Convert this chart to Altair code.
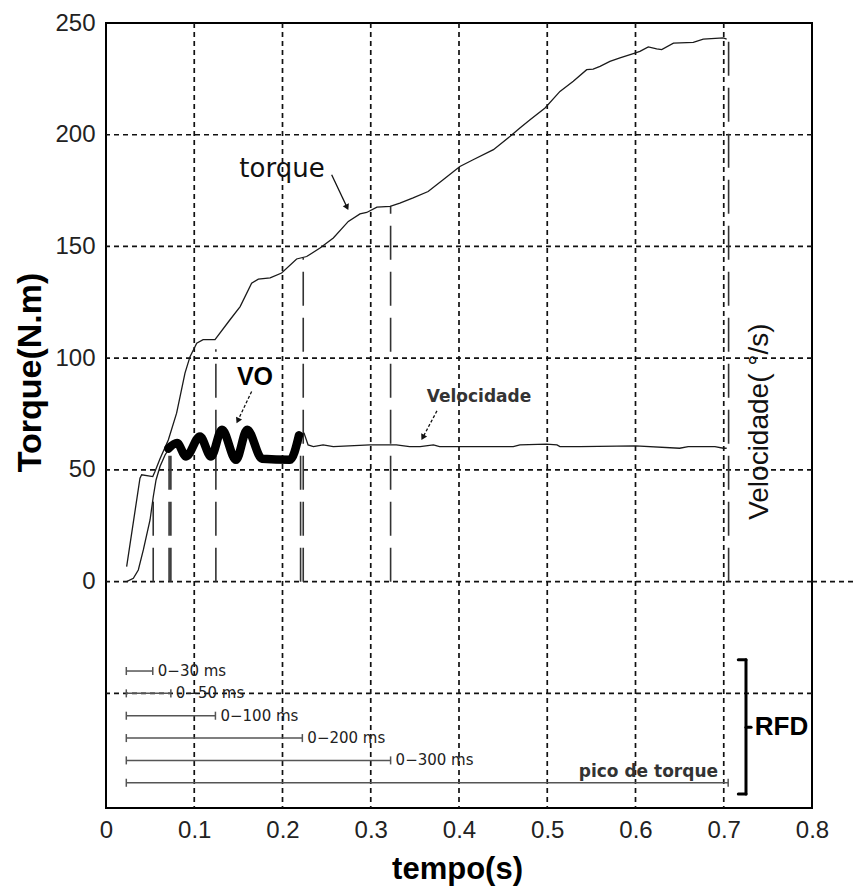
import altair as alt
import pandas as pd
import numpy as np

# ---------------- data ----------------
torque_t = [0.0234, 0.0385, 0.0404, 0.053, 0.0555, 0.0612, 0.0706, 0.080, 0.0895, 0.0952,
            0.1028, 0.110, 0.1235, 0.1405, 0.152, 0.165, 0.1726, 0.186, 0.199, 0.216,
            0.2274, 0.2425, 0.2576, 0.2746, 0.2878, 0.2954, 0.307, 0.322, 0.333, 0.348,
            0.365, 0.382, 0.401, 0.416, 0.439, 0.458, 0.469, 0.4805, 0.4975, 0.5144,
            0.5295, 0.5447, 0.552, 0.5598, 0.571, 0.5824, 0.5975, 0.605, 0.6145, 0.624,
            0.6297, 0.643, 0.6655, 0.6768, 0.6995, 0.7033]
torque_v = [6.7, 46.3, 47.8, 47.0, 49.3, 55.0, 63.4, 75.4, 93.3, 100.7,
            106.7, 108.3, 108.3, 117.2, 123.1, 133.6, 135.4, 135.9, 138.1, 144.4,
            145.5, 149.3, 153.8, 161.2, 164.6, 165.2, 167.6, 167.9, 169.4, 171.7,
            174.6, 179.9, 185.8, 188.8, 193.3, 199.3, 203.0, 206.7, 212.0, 219.4,
            223.9, 229.1, 229.4, 230.6, 232.8, 234.4, 236.3, 237.3, 239.3, 238.4,
            238.1, 241.0, 241.3, 242.8, 243.3, 242.8]

# velocity: rising part (segment "a") and plateau after the VO wave (segment "b")
vel_t = [0.0234, 0.031, 0.0366, 0.0423, 0.0499, 0.0536, 0.0567, 0.0612, 0.0669, 0.0706,
         0.2187, 0.2245, 0.229, 0.235, 0.246, 0.2576, 0.299, 0.329, 0.344, 0.356,
         0.371, 0.378, 0.4615, 0.469, 0.499, 0.511, 0.5144, 0.537, 0.60, 0.65,
         0.6597, 0.69, 0.6996, 0.7033]
vel_v = [0.0, 1.5, 5.2, 14.2, 27.6, 38.1, 45.5, 51.5, 56.7, 59.0,
         65.5, 66.4, 61.2, 60.4, 61.2, 60.4, 61.2, 61.2, 60.4, 60.4,
         61.2, 60.4, 60.4, 61.2, 61.5, 61.2, 60.4, 60.4, 60.8, 59.7,
         60.4, 60.4, 59.7, 59.7]
vel_seg = ["a"] * 10 + ["b"] * 24

vo_t = [0.0706, 0.0805, 0.0907, 0.1065, 0.119, 0.1314, 0.1473, 0.160, 0.1768, 0.2085, 0.2187]
vo_v = [59.5, 62.0, 56.0, 65.0, 56.0, 68.0, 54.5, 68.0, 55.0, 54.5, 65.5]

marker_t = [0.0535, 0.0715, 0.0735, 0.1245, 0.2205, 0.2235, 0.3225, 0.7055]
marker_top = [40, 60, 60, 104, 66, 145, 168, 243]

grid_x = [0.1, 0.2, 0.3, 0.4, 0.5, 0.6, 0.7]
grid_y = [-50, 0, 50, 100, 150, 200]
x_ticks = [0, 0.1, 0.2, 0.3, 0.4, 0.5, 0.6, 0.7, 0.8]
y_ticks = [0, 50, 100, 150, 200, 250]

rfd_labels = ["0\u221230 ms", "0\u221250 ms", "0\u2212100 ms", "0\u2212200 ms", "0\u2212300 ms", ""]
rfd_row = [-40, -50, -60, -70, -80, -90]
rfd_start = 0.023
rfd_end = [0.053, 0.0735, 0.124, 0.2225, 0.3225, 0.705]

# ---------------- layout ----------------
W, H = 706, 785
XD = [0, 0.8]
YD = [-101.3, 250]
XS = alt.Scale(domain=XD, nice=False, zero=False)
YS = alt.Scale(domain=YD, nice=False, zero=False)
pxx = W / (XD[1] - XD[0])
pxy = H / (YD[1] - YD[0])

X_AXIS = alt.Axis(
    values=x_ticks, format=".1~f", title="tempo(s)", grid=False, ticks=False,
    domain=False, labelFont="Liberation Sans", labelFontSize=24, labelColor="#222",
    labelPadding=10, labelOverlap=False, labelFlush=False,
    titleFont="Liberation Sans", titleFontSize=31, titleFontWeight="bold",
    titleColor="#000", titleX=351, titleY=70, titleBaseline="alphabetic",
    titleAlign="center")
Y_AXIS = alt.Axis(
    values=y_ticks, title="Torque(N.m)", grid=False, ticks=False, domain=False,
    labelFont="Liberation Sans", labelFontSize=24, labelColor="#222",
    labelPadding=11, labelOverlap=False, labelFlush=False,
    titleFont="Liberation Sans", titleFontSize=34, titleFontWeight="bold",
    titleColor="#000", titleAngle=270, titleX=-76, titleY=349,
    titleAlign="center", titleBaseline="middle")


def X(f):
    return alt.X(f, type="quantitative", scale=XS, axis=X_AXIS)


def Y(f):
    return alt.Y(f, type="quantitative", scale=YS, axis=Y_AXIS)


INK = "#1a1a1a"
GRID = "#111111"

# gridlines
vgrid = alt.Chart(pd.DataFrame({"x": grid_x})).mark_rule(
    color=GRID, strokeWidth=1.7, strokeDash=[5, 4]).encode(x=X("x"))
hgrid = alt.Chart(pd.DataFrame({"y": grid_y})).mark_rule(
    color=GRID, strokeWidth=1.7, strokeDash=[5, 4]).encode(y=Y("y"))
zero_ext = alt.Chart(pd.DataFrame({"x": [0.8], "x2": [0.85], "y": [0]})).mark_rule(
    color=GRID, strokeWidth=1.7, strokeDash=[5, 4]).encode(
    x=X("x"), x2="x2", y=Y("y"))

torque = alt.Chart(pd.DataFrame({"t": torque_t, "v": torque_v})).mark_line(
    color=INK, strokeWidth=1.3).encode(x=X("t"), y=Y("v"), order="t:Q")

vel = alt.Chart(pd.DataFrame({"t": vel_t, "v": vel_v, "seg": vel_seg})).mark_line(
    color=INK, strokeWidth=1.3).encode(x=X("t"), y=Y("v"), detail="seg:N", order="t:Q")

vo = alt.Chart(pd.DataFrame({"t": vo_t, "v": vo_v})).mark_line(
    color="#000", strokeWidth=8.5, interpolate="monotone", strokeCap="round",
    strokeJoin="round").encode(x=X("t"), y=Y("v"), order="t:Q")

# vertical long-dashed markers
mk_df = pd.DataFrame({"t": marker_t, "top": marker_top, "bot": [0] * len(marker_t)})
markers = alt.Chart(mk_df).mark_rule(
    color="#333", strokeWidth=1.6, strokeDash=[34, 12]).encode(
    x=X("t"), y=Y("bot"), y2="top")

# RFD bars
rfd_df = pd.DataFrame({"row": rfd_row, "start": [rfd_start] * len(rfd_row),
                       "end": rfd_end, "label": rfd_labels})
rfd_bars = alt.Chart(rfd_df).mark_rule(color="#555", strokeWidth=1.5).encode(
    x=X("start"), x2="end", y=Y("row"))
cap_rows = []
for r, e in zip(rfd_row, rfd_end):
    for cx in (rfd_start, e):
        cap_rows.append({"x": cx, "y1": r - 1.8, "y2": r + 1.8})
rfd_caps = alt.Chart(pd.DataFrame(cap_rows)).mark_rule(color="#555", strokeWidth=1.5).encode(
    x=X("x"), y=Y("y1"), y2="y2")
rfd_text = alt.Chart(rfd_df).mark_text(
    align="left", baseline="middle", dx=5, font="DejaVu Sans", fontSize=15,
    color="#222").encode(x=X("end"), y=Y("row"), text="label:N")

pico = alt.Chart(pd.DataFrame({"x": [0.6935], "y": [-87.3], "s": ["pico de torque"]})).mark_text(
    align="right", baseline="alphabetic", font="DejaVu Sans", fontWeight="bold",
    fontSize=17, color="#333").encode(x=X("x"), y=Y("y"), text="s:N")

# brace for RFD
brace_df = pd.DataFrame({
    "x": [0.7252, 0.7165, 0.7165, 0.7252],
    "x2": [0.7252, 0.7252, 0.7252, 0.7310],
    "y": [-35.0, -35.0, -95.0, -65.2],
    "y2": [-95.0, -35.0, -95.0, -65.2],
})
brace = alt.Chart(brace_df).mark_rule(color="#000", strokeWidth=3, strokeCap="round").encode(
    x=X("x"), x2="x2", y=Y("y"), y2="y2")

# text annotations
ann_df = pd.DataFrame({
    "x": [0.1994, 0.1688, 0.4227, 0.7655],
    "y": [181.1, 88.1, 80.5, -68.7],
    "s": ["torque", "VO", "Velocidade", "RFD"],
})
t_torque = alt.Chart(ann_df.iloc[[0]]).mark_text(
    align="center", baseline="alphabetic", font="DejaVu Sans", fontSize=26,
    color="#111").encode(x=X("x"), y=Y("y"), text="s:N")
t_vo = alt.Chart(ann_df.iloc[[1]]).mark_text(
    align="center", baseline="alphabetic", font="Liberation Sans", fontWeight="bold",
    fontSize=25, color="#000").encode(x=X("x"), y=Y("y"), text="s:N")
t_vel = alt.Chart(ann_df.iloc[[2]]).mark_text(
    align="center", baseline="alphabetic", font="DejaVu Sans", fontWeight="bold",
    fontSize=17, color="#333").encode(x=X("x"), y=Y("y"), text="s:N")
t_rfd = alt.Chart(ann_df.iloc[[3]]).mark_text(
    align="center", baseline="alphabetic", font="Liberation Sans", fontWeight="bold",
    fontSize=26, color="#000").encode(x=X("x"), y=Y("y"), text="s:N")

t_right = alt.Chart(pd.DataFrame({"x": [0.741], "y": [71.6], "s": ["Velocidade( \u00b0/s)"]})).mark_text(
    align="center", baseline="middle", angle=270, font="Liberation Sans", fontSize=28,
    color="#111").encode(x=X("x"), y=Y("y"), text="s:N")

# arrows
arr = pd.DataFrame({
    "x": [0.2557, 0.1650, 0.3750],
    "y": [182.1, 85.1, 76.4],
    "x2": [0.2727, 0.1498, 0.3595],
    "y2": [167.9, 72.4, 64.9],
})
dxp = (arr["x2"] - arr["x"]) * pxx
dyp = -(arr["y2"] - arr["y"]) * pxy
arr["ang"] = (np.degrees(np.arctan2(dxp, -dyp)) + 360) % 360
shaft_solid = alt.Chart(arr.iloc[[0]]).mark_rule(color="#111", strokeWidth=1.3).encode(
    x=X("x"), y=Y("y"), x2="x2", y2="y2")
shaft_dash = alt.Chart(arr.iloc[[1, 2]]).mark_rule(
    color="#111", strokeWidth=1.3, strokeDash=[3, 2]).encode(
    x=X("x"), y=Y("y"), x2="x2", y2="y2")
heads = alt.Chart(arr).mark_point(shape="triangle", filled=True, size=45, color="#111",
                                  opacity=1).encode(
    x=X("x2"), y=Y("y2"), angle=alt.Angle("ang:Q", scale=None))

chart = alt.layer(
    vgrid, hgrid, zero_ext, markers, torque, vel, vo,
    rfd_bars, rfd_caps, rfd_text, pico, brace,
    t_torque, t_vo, t_vel, t_rfd, t_right,
    shaft_solid, shaft_dash, heads,
).properties(
    width=W, height=H,
    padding={"left": 106, "top": 23, "right": 43, "bottom": 84},
    autosize=alt.AutoSizeParams(type="none"),
    background="white",
).configure_view(stroke="#000", strokeWidth=2)

chart.save("out.html", embed_options={"renderer": "svg", "actions": False})
